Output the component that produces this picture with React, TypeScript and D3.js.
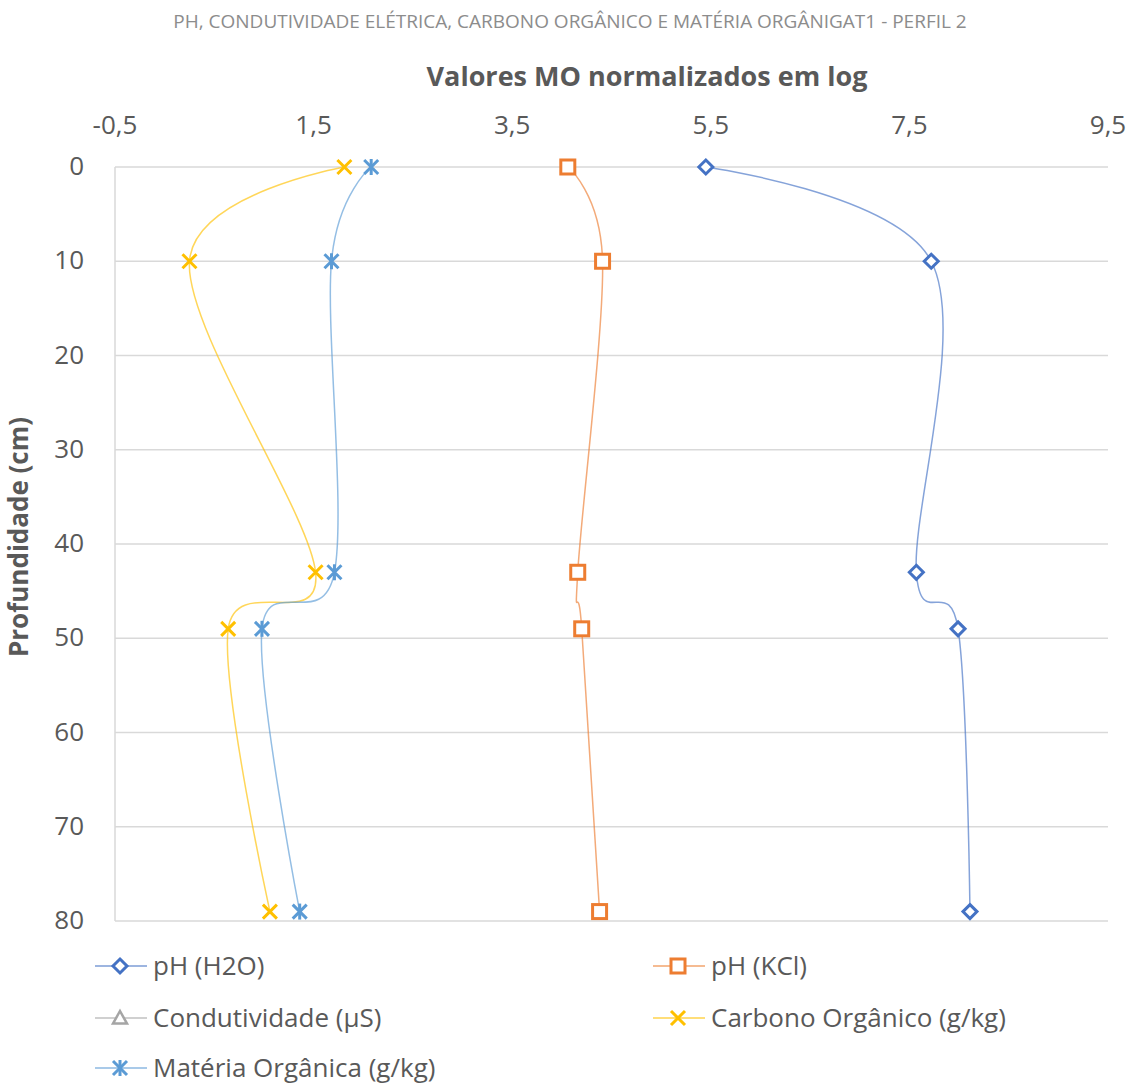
import React from 'react';
import * as d3 from 'd3';

const depths = [0, 10, 43, 49, 79];
const phH2O = [5.45, 7.72, 7.57, 7.99, 8.11];
const phKCl = [4.06, 4.41, 4.16, 4.2, 4.38];
const condutividade: number[] = []; // fora da escala, só na legenda
const carbono = [1.81, 0.25, 1.52, 0.64, 1.06];
const materia = [2.08, 1.68, 1.71, 0.98, 1.36];

const xTicks = [-0.5, 1.5, 3.5, 5.5, 7.5, 9.5];
const yTicks = [0, 10, 20, 30, 40, 50, 60, 70, 80];

const series = [
  { name: 'pH (H2O)', values: phH2O, color: '#4472C4', marker: 'diamond' },
  { name: 'pH (KCl)', values: phKCl, color: '#ED7D31', marker: 'square' },
  { name: 'Condutividade (µS)', values: condutividade, color: '#A5A5A5', marker: 'triangle' },
  { name: 'Carbono Orgânico (g/kg)', values: carbono, color: '#FFC000', marker: 'x' },
  { name: 'Matéria Orgânica (g/kg)', values: materia, color: '#5B9BD5', marker: 'star' },
];

const W = 1131;
const H = 1086;
const left = 115;
const right = 1108;
const top = 167;
const bottom = 921;
const font = '"Open Sans", "Noto Sans", sans-serif';

const x = d3.scaleLinear().domain([-0.5, 9.5]).range([left, right]);
const y = d3.scaleLinear().domain([0, 80]).range([top, bottom]);

const line = d3.line<[number, number]>()
  .x(d => x(d[0]))
  .y(d => y(d[1]))
  .curve(d3.curveCardinal.tension(0));

const fmt = (t: number) => t.toFixed(1).replace('.', ',');

function Marker({ kind, cx, cy, color }: { kind: string; cx: number; cy: number; color: string }) {
  const sw = 3;
  const r = 7;
  if (kind === 'diamond') {
    return <path d={`M${cx},${cy - r}L${cx + r},${cy}L${cx},${cy + r}L${cx - r},${cy}Z`} fill="#fff" stroke={color} strokeWidth={sw} />;
  }
  if (kind === 'square') {
    return <rect x={cx - r} y={cy - r} width={2 * r} height={2 * r} fill="#fff" stroke={color} strokeWidth={sw} />;
  }
  if (kind === 'triangle') {
    return <path d={`M${cx},${cy - r}L${cx + r},${cy + r * 0.8}L${cx - r},${cy + r * 0.8}Z`} fill="#fff" stroke={color} strokeWidth={2.5} />;
  }
  const xs = <path d={`M${cx - r},${cy - r}L${cx + r},${cy + r}M${cx - r},${cy + r}L${cx + r},${cy - r}`} stroke={color} strokeWidth={sw} />;
  if (kind === 'x') return xs;
  return (
    <g>
      {xs}
      <path d={`M${cx},${cy - r - 1}L${cx},${cy + r + 1}`} stroke={color} strokeWidth={sw} />
    </g>
  );
}

const legendPos = [
  { lx: 95, ly: 966 },
  { lx: 653, ly: 966 },
  { lx: 95, ly: 1018 },
  { lx: 653, ly: 1018 },
  { lx: 95, ly: 1068 },
];

export default function App() {
  return (
    <svg width={W} height={H} style={{ position: 'absolute', left: 0, top: 0, background: '#fff' }} fontFamily={font}>
      <rect width={W} height={H} fill="#fff" />
      <text x={570} y={28} textAnchor="middle" fontSize={19} fill="#8c8c8c">
        PH, CONDUTIVIDADE ELÉTRICA, CARBONO ORGÂNICO E MATÉRIA ORGÂNIGAT1 - PERFIL 2
      </text>
      <text x={647} y={86} textAnchor="middle" fontSize={27} fontWeight="bold" fill="#595959">
        Valores MO normalizados em log
      </text>

      {yTicks.map(t => (
        <line key={t} x1={left} x2={right} y1={y(t)} y2={y(t)} stroke="#d9d9d9" strokeWidth={1.5} />
      ))}
      <line x1={left} x2={left} y1={top} y2={bottom} stroke="#d9d9d9" strokeWidth={1.5} />

      {xTicks.map(t => (
        <text key={t} x={x(t)} y={134} textAnchor="middle" fontSize={26} fill="#595959">
          {fmt(t)}
        </text>
      ))}
      {yTicks.map(t => (
        <text key={t} x={84} y={y(t) + 8} textAnchor="end" fontSize={26} fill="#595959">
          {t}
        </text>
      ))}
      <text transform={`translate(28,537) rotate(-90)`} textAnchor="middle" fontSize={26} fontWeight="bold" fill="#595959">
        Profundidade (cm)
      </text>

      {series.map(s => {
        const pts = s.values.map((v, i) => [v, depths[i]] as [number, number]);
        return (
          <g key={s.name}>
            {pts.length > 1 && (
              <path d={line(pts) || ''} fill="none" stroke={s.color} strokeWidth={1.5} strokeOpacity={0.65} />
            )}
            {pts.map((p, i) => (
              <Marker key={i} kind={s.marker} cx={x(p[0])} cy={y(p[1])} color={s.color} />
            ))}
          </g>
        );
      })}

      {series.map((s, i) => {
        const { lx, ly } = legendPos[i];
        return (
          <g key={s.name}>
            <line x1={lx} x2={lx + 52} y1={ly} y2={ly} stroke={s.color} strokeWidth={1.5} strokeOpacity={0.7} />
            <Marker kind={s.marker} cx={lx + 25} cy={ly} color={s.color} />
            <text x={lx + 58} y={ly + 9} fontSize={26} fill="#595959">{s.name}</text>
          </g>
        );
      })}
    </svg>
  );
}
